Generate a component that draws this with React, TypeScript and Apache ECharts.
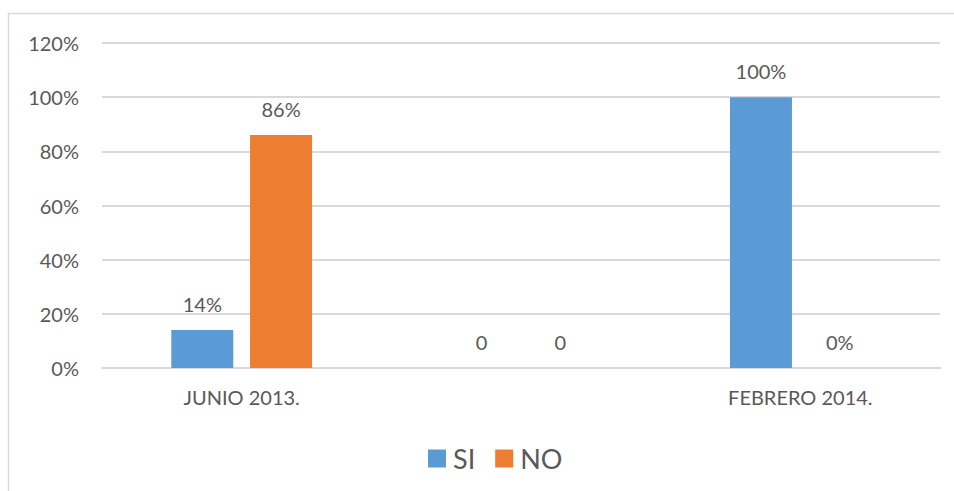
import React, { useEffect, useRef } from "react";
import * as echarts from "echarts";

// Survey answers per period (percent)
const categories = ["JUNIO 2013.", "", "FEBRERO 2014."];
const siValues = [14, 0, 100];
const noValues = [86, 0, 0];
const siLabels = ["14%", "0", "100%"];
const noLabels = ["86%", "0", "0%"];
const yTicks = [0, 20, 40, 60, 80, 100, 120];

const TEXT = "#595959";
const GRID = "#d9d9d9";
const FONT = "Lato, 'Open Sans', sans-serif";

export default function App() {
  const ref = useRef<HTMLDivElement>(null);

  useEffect(() => {
    document.body.style.margin = "0";
    const chart = echarts.init(ref.current!, null, { renderer: "svg" });

    const labelFor = (texts: string[]) => ({
      show: true,
      position: "top",
      distance: 16,
      fontFamily: FONT,
      fontSize: 20,
      color: TEXT,
      formatter: (p: any) => texts[p.dataIndex],
    });

    chart.setOption({
      animation: false,
      backgroundColor: "#ffffff",
      graphic: [
        {
          type: "rect",
          shape: { x: 8.5, y: 13.5, width: 1000, height: 600 },
          style: { fill: "none", stroke: GRID, lineWidth: 1.5 },
          silent: true,
        },
      ],
      grid: { left: 102, right: 14, top: 43, bottom: 123 },
      legend: {
        data: ["SI", "NO"],
        left: 423,
        top: 440,
        icon: "rect",
        itemWidth: 18,
        itemHeight: 18,
        itemGap: 20,
        textStyle: { fontFamily: FONT, fontSize: 27, color: TEXT, padding: [0, 0, 0, 2] },
      },
      xAxis: {
        type: "category",
        data: categories,
        axisLine: { show: true, lineStyle: { color: GRID, width: 2 } },
        axisTick: { show: false },
        axisLabel: { fontFamily: FONT, fontSize: 20, color: TEXT, margin: 19 },
      },
      yAxis: {
        type: "value",
        min: yTicks[0],
        max: yTicks[yTicks.length - 1],
        interval: 20,
        axisLine: { show: false },
        axisTick: { show: false },
        splitLine: { lineStyle: { color: GRID, width: 2 } },
        axisLabel: {
          fontFamily: FONT,
          fontSize: 20,
          color: TEXT,
          margin: 23,
          formatter: "{value}%",
        },
      },
      series: [
        {
          name: "SI",
          type: "bar",
          data: siValues,
          barWidth: 62,
          barGap: "27%",
          itemStyle: { color: "#5b9bd5" },
          label: labelFor(siLabels),
        },
        {
          name: "NO",
          type: "bar",
          data: noValues,
          barWidth: 62,
          barGap: "27%",
          itemStyle: { color: "#ed7d31" },
          label: labelFor(noLabels),
        },
      ],
    });

    return () => chart.dispose();
  }, []);

  return <div ref={ref} style={{ width: 954, height: 491 }} />;
}
